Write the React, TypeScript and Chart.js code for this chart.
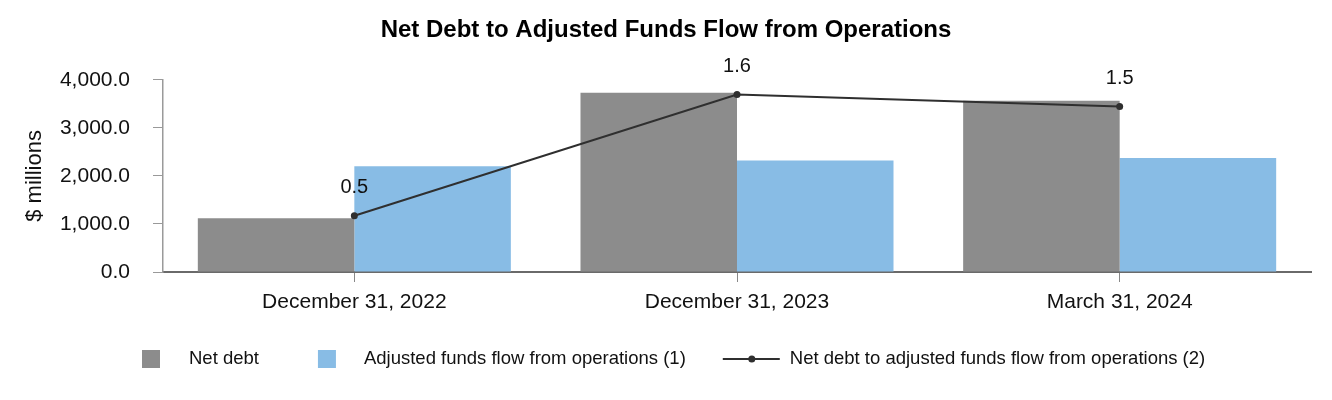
import React, { useEffect, useRef } from "react";
import { Chart, registerables } from "chart.js";

Chart.register(...registerables);

const FONT = '"Liberation Sans", Arial, Helvetica, sans-serif';

const categories = ["December 31, 2022", "December 31, 2023", "March 31, 2024"];
const netDebt = [1120, 3730, 3565];
const adjustedFundsFlow = [2200, 2320, 2370];
const netDebtToAffo = [0.51, 1.61, 1.5];
const yTicks = [0, 1000, 2000, 3000, 4000];
const seriesNames = [
  "Net debt",
  "Adjusted funds flow from operations (1)",
  "Net debt to adjusted funds flow from operations (2)",
];

const GRAY = "#8c8c8c";
const BLUE = "#88bce5";
const LINE = "#2f2f2f";

const pointLabelPlugin = {
  id: "pointLabels",
  afterDatasetsDraw(chart: any) {
    const idx = chart.data.datasets.findIndex((d: any) => d.type === "line");
    const meta = chart.getDatasetMeta(idx);
    const ctx = chart.ctx;
    ctx.save();
    ctx.font = `20px ${FONT}`;
    ctx.fillStyle = "#111";
    ctx.textAlign = "center";
    ctx.textBaseline = "middle";
    meta.data.forEach((pt: any, i: number) => {
      ctx.fillText(netDebtToAffo[i].toFixed(1), pt.x, pt.y - 28);
    });
    ctx.restore();
  },
};

const legendPlugin = {
  id: "customLegend",
  afterDraw(chart: any) {
    const ctx = chart.ctx;
    const y = chart.height - 41;
    ctx.save();
    ctx.font = `18.5px ${FONT}`;
    ctx.textBaseline = "middle";
    ctx.textAlign = "left";
    let x = 142;
    // item 1
    ctx.fillStyle = GRAY;
    ctx.fillRect(x, y - 9, 18, 18);
    x += 18 + 29;
    ctx.fillStyle = "#111";
    ctx.fillText(seriesNames[0], x, y);
    x += ctx.measureText(seriesNames[0]).width + 59;
    // item 2
    ctx.fillStyle = BLUE;
    ctx.fillRect(x, y - 9, 18, 18);
    x += 18 + 28;
    ctx.fillStyle = "#111";
    ctx.fillText(seriesNames[1], x, y);
    x += ctx.measureText(seriesNames[1]).width + 37;
    // item 3
    ctx.strokeStyle = LINE;
    ctx.lineWidth = 2;
    ctx.beginPath();
    ctx.moveTo(x, y);
    ctx.lineTo(x + 57, y);
    ctx.stroke();
    ctx.fillStyle = LINE;
    ctx.beginPath();
    ctx.arc(x + 29, y, 3.5, 0, Math.PI * 2);
    ctx.fill();
    x += 57 + 10;
    ctx.fillStyle = "#111";
    ctx.fillText(seriesNames[2], x, y);
    ctx.restore();
  },
};

export default function App() {
  const ref = useRef<HTMLCanvasElement | null>(null);

  useEffect(() => {
    if (!ref.current) return;
    Chart.defaults.font.family = FONT;
    const chart = new Chart(ref.current, {
      type: "bar",
      data: {
        labels: categories,
        datasets: [
          {
            type: "line",
            label: seriesNames[2],
            data: netDebtToAffo,
            yAxisID: "y1",
            borderColor: LINE,
            borderWidth: 2,
            pointRadius: 3.5,
            pointBackgroundColor: LINE,
            pointBorderWidth: 0,
            tension: 0,
            order: 0,
          } as any,
          {
            label: seriesNames[0],
            data: netDebt,
            backgroundColor: GRAY,
            yAxisID: "y",
            categoryPercentage: 0.818,
            barPercentage: 1,
            order: 1,
          },
          {
            label: seriesNames[1],
            data: adjustedFundsFlow,
            backgroundColor: BLUE,
            yAxisID: "y",
            categoryPercentage: 0.818,
            barPercentage: 1,
            order: 1,
          },
        ],
      },
      options: {
        responsive: false,
        animation: false,
        devicePixelRatio: 1,
        layout: { padding: { left: 0, right: 0, top: 0, bottom: 78 } },
        plugins: {
          legend: { display: false },
          tooltip: { enabled: false },
          title: {
            display: true,
            text: "Net Debt to Adjusted Funds Flow from Operations",
            color: "#000",
            font: { size: 24, weight: "bold", family: FONT },
            padding: { top: 16, bottom: 35 },
          },
        },
        scales: {
          x: {
            offset: true,
            grid: {
              display: true,
              drawOnChartArea: false,
              drawTicks: true,
              tickLength: 10,
              offset: false,
              color: "#888",
            },
            border: { display: true, color: "#6a6a6a", width: 2 },
            ticks: { font: { size: 21 }, color: "#111", padding: 8, maxRotation: 0 },
            afterFit: (s: any) => {
              s.height = 50;
            },
          },
          y: {
            position: "left",
            min: 0,
            max: 4000,
            afterBuildTicks: (s: any) => {
              s.ticks = yTicks.map((v) => ({ value: v }));
            },
            ticks: {
              font: { size: 21 },
              color: "#111",
              padding: 23,
              callback: (v: any) =>
                Number(v).toLocaleString("en-US", {
                  minimumFractionDigits: 1,
                  maximumFractionDigits: 1,
                }),
            },
            grid: { drawOnChartArea: false, tickLength: 10, color: "#999" },
            border: { display: true, color: "#9a9a9a", width: 1.5 },
            title: {
              display: true,
              text: "$ millions",
              color: "#111",
              font: { size: 22 },
              padding: { top: 22, bottom: 0 },
            },
            afterFit: (s: any) => {
              s.width = 163;
            },
          },
          y1: {
            position: "right",
            min: 0,
            max: 1.743,
            ticks: { display: false },
            grid: { display: false },
            border: { display: false },
            afterFit: (s: any) => {
              s.width = 21;
            },
          },
        },
      },
      plugins: [pointLabelPlugin, legendPlugin],
    });
    return () => chart.destroy();
  }, []);

  return (
    <div style={{ position: "absolute", left: 0, top: 0, width: 1332, height: 400 }}>
      <canvas ref={ref} width={1332} height={400} />
    </div>
  );
}
